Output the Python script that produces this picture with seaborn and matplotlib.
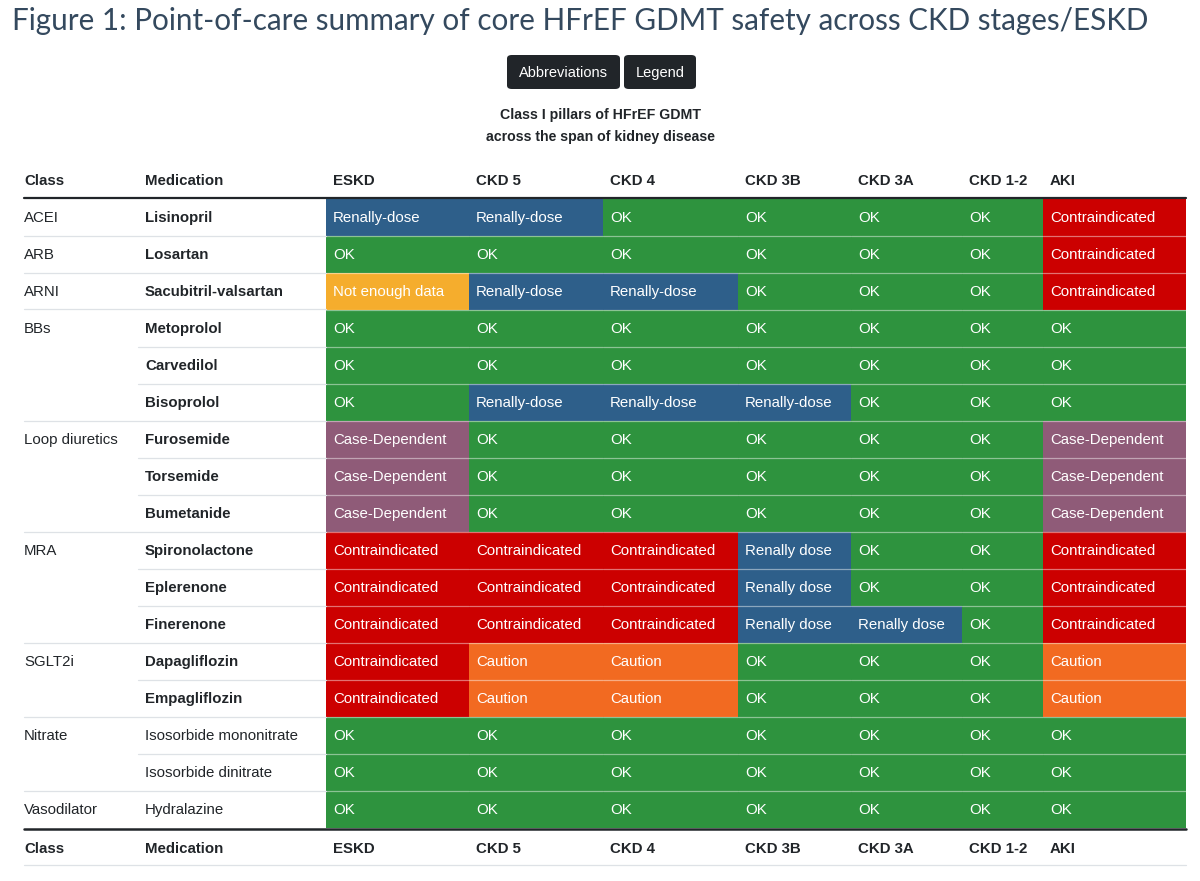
import numpy as np
import pandas as pd
import seaborn as sns
import matplotlib.pyplot as plt
from matplotlib.colors import ListedColormap
from matplotlib.patches import FancyBboxPatch
from matplotlib.lines import Line2D

# ---- data ----
stages = ["ESKD", "CKD 5", "CKD 4", "CKD 3B", "CKD 3A", "CKD 1-2", "AKI"]

classes = ["ACEI", "ARB", "ARNI", "BBs", "", "", "Loop diuretics", "", "",
           "MRA", "", "", "SGLT2i", "", "Nitrate", "", "Vasodilator"]
medications = ["Lisinopril", "Losartan", "Sacubitril-valsartan", "Metoprolol",
               "Carvedilol", "Bisoprolol", "Furosemide", "Torsemide", "Bumetanide",
               "Spironolactone", "Eplerenone", "Finerenone", "Dapagliflozin",
               "Empagliflozin", "Isosorbide mononitrate", "Isosorbide dinitrate",
               "Hydralazine"]
bold_meds = [True] * 14 + [False] * 3

eskd = ["Renally-dose", "OK", "Not enough data", "OK", "OK", "OK",
        "Case-Dependent", "Case-Dependent", "Case-Dependent",
        "Contraindicated", "Contraindicated", "Contraindicated",
        "Contraindicated", "Contraindicated", "OK", "OK", "OK"]
ckd5 = ["Renally-dose", "OK", "Renally-dose", "OK", "OK", "Renally-dose",
        "OK", "OK", "OK",
        "Contraindicated", "Contraindicated", "Contraindicated",
        "Caution", "Caution", "OK", "OK", "OK"]
ckd4 = ["OK", "OK", "Renally-dose", "OK", "OK", "Renally-dose",
        "OK", "OK", "OK",
        "Contraindicated", "Contraindicated", "Contraindicated",
        "Caution", "Caution", "OK", "OK", "OK"]
ckd3b = ["OK", "OK", "OK", "OK", "OK", "Renally-dose",
         "OK", "OK", "OK",
         "Renally dose", "Renally dose", "Renally dose",
         "OK", "OK", "OK", "OK", "OK"]
ckd3a = ["OK", "OK", "OK", "OK", "OK", "OK",
         "OK", "OK", "OK",
         "OK", "OK", "Renally dose",
         "OK", "OK", "OK", "OK", "OK"]
ckd12 = ["OK"] * 17
aki = ["Contraindicated", "Contraindicated", "Contraindicated", "OK", "OK", "OK",
       "Case-Dependent", "Case-Dependent", "Case-Dependent",
       "Contraindicated", "Contraindicated", "Contraindicated",
       "Caution", "Caution", "OK", "OK", "OK"]

status_order = ["OK", "Renally-dose", "Renally dose", "Contraindicated",
                "Caution", "Not enough data", "Case-Dependent"]
status_colors = ["#2e933e", "#2e5f8a", "#2e5f8a", "#cc0000",
                 "#f26a21", "#f5ad2d", "#8f5b78"]

table = pd.DataFrame(dict(zip(stages, [eskd, ckd5, ckd4, ckd3b, ckd3a, ckd12, aki])),
                     index=medications)
codes = table.replace({s: i for i, s in enumerate(status_order)}).astype(int)

# ---- layout (pixels) ----
W, H = 1200, 881
col_edges = [326, 469, 603, 738, 851, 962, 1043, 1186]
left_edge, med_edge = 24, 138
row_top, row_h = 198.5, 37.0
n_rows = len(medications)
row_bot = row_top + n_rows * row_h

sns.set_style("white")
plt.rcParams['font.family'] = ['Liberation Sans', 'DejaVu Sans']

fig = plt.figure(figsize=(12, 8.81), dpi=100)
fs = 10.8
dark = "#212529"


def fx(x):
    return x / W


def fy(y):
    return 1 - y / H


def ptext(x, y, s, **kw):
    kw.setdefault("va", "center")
    kw.setdefault("ha", "left")
    kw.setdefault("color", dark)
    kw.setdefault("fontsize", fs)
    fig.text(fx(x), fy(y), s, **kw)


def hline(x0, x1, y, color, lw):
    fig.add_artist(Line2D([fx(x0), fx(x1)], [fy(y), fy(y)], color=color, lw=lw))


cmap = ListedColormap(status_colors)

# colored status cells, one heatmap per stage column
for j, stage in enumerate(stages):
    x0, x1 = col_edges[j], col_edges[j + 1]
    ax = fig.add_axes([fx(x0), fy(row_bot), (x1 - x0) / W, (row_bot - row_top) / H])
    sns.heatmap(codes[[stage]], cmap=cmap, vmin=-0.5, vmax=len(status_order) - 0.5,
                cbar=False, ax=ax, xticklabels=False, yticklabels=False)
    for i, val in enumerate(table[stage]):
        ax.text(7 / (x1 - x0), i + 0.53, val, ha="left", va="center",
                color="white", fontsize=fs)
    for i in range(1, n_rows):
        ax.axhline(i, color="white", alpha=0.45, lw=0.9)
    ax.set_xlabel("")
    ax.set_ylabel("")

# title, buttons, subtitle
ptext(12, 21, "Figure 1: Point-of-care summary of core HFrEF GDMT safety across CKD stages/ESKD",
      fontsize=21.3, color="#34495e", family=["Lato", "DejaVu Sans"])
for bx0, bx1, label in [(507, 620, "Abbreviations"), (624, 696, "Legend")]:
    fig.add_artist(FancyBboxPatch((fx(bx0), fy(89)), (bx1 - bx0) / W, 34 / H,
                                  boxstyle="round,pad=0,rounding_size=0.004",
                                  transform=fig.transFigure, facecolor=dark,
                                  edgecolor="none"))
    ptext((bx0 + bx1) / 2, 73, label, ha="center", color="white", fontsize=10.5)
ptext(600, 115, "Class I pillars of HFrEF GDMT", ha="center", fontsize=10.2, weight="bold")
ptext(600, 137, "across the span of kidney disease", ha="center", fontsize=10.2, weight="bold")

# header and footer rows
header_x = [24, 145] + [e + 7 for e in col_edges[:-1]]
header_labels = ["Class", "Medication"] + stages
for hx, lab in zip(header_x, header_labels):
    ptext(hx, 181, lab, weight="bold")
    ptext(hx, 849, lab, weight="bold")

# class and medication columns
for i, (cl, med, b) in enumerate(zip(classes, medications, bold_meds)):
    yc = row_top + (i + 0.5) * row_h + 1
    if cl:
        ptext(24, yc, cl)
    ptext(145, yc, med, weight="bold" if b else "normal")

# separators in the white area
for i in range(1, n_rows):
    y = row_top + i * row_h
    start = left_edge if classes[i] else med_edge
    hline(start, col_edges[0], y, "#dee2e6", 0.9)

hline(left_edge, col_edges[-1], 197.5, dark, 1.6)
hline(left_edge, col_edges[-1], 828.5, dark, 1.8)
hline(left_edge, col_edges[-1], 864.5, "#dee2e6", 0.9)

fig.savefig("out.png", dpi=100)
plt.close()
